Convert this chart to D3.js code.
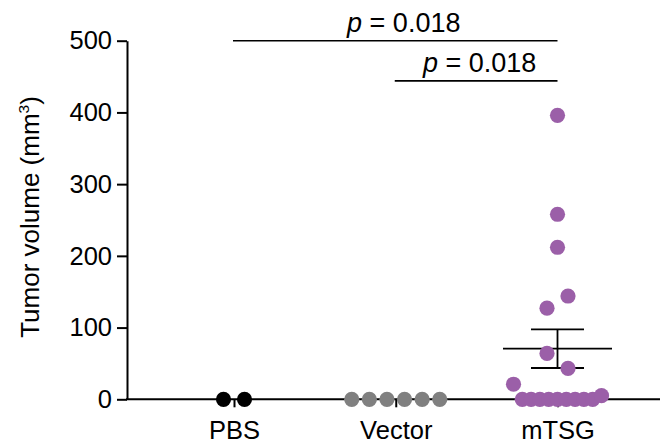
<!DOCTYPE html>
<html>
<head>
<meta charset="utf-8">
<script src="https://cdn.jsdelivr.net/npm/d3@7"></script>
<style>
  html, body { margin: 0; padding: 0; background: #fff; }
  svg { display: block; font-family: "Liberation Sans", Arial, sans-serif; }
</style>
</head>
<body>
<svg id="chart" width="662" height="446"></svg>
<script>
// ---- data ----
const categories = ["PBS", "Vector", "mTSG"];
const pbsValues = [0, 0];
const vectorValues = [0, 0, 0, 0, 0, 0];
const mtsgValues = [396, 258, 212, 127, 144, 64, 43, 21, 0, 0, 0, 0, 0, 0, 0, 0, 0, 5];
const groupColors = ["#000000", "#808080", "#9B5FA8"];
const yTicks = [0, 100, 200, 300, 400, 500];
const compFrom = ["PBS", "Vector"];
const compTo = ["mTSG", "mTSG"];
const compLabels = ["0.018", "0.018"];
const compLevels = [500, 444];

const groups = [pbsValues, vectorValues, mtsgValues];

// ---- layout ----
const svg = d3.select("#chart");
const axisLeftX = 127, axisRightX = 660;
const y = d3.scaleLinear().domain([0, 500]).range([399.3, 40.7]);
const x = d3.scalePoint().domain(categories).range([234, 557.5]);
const r = 7.6;

// beeswarm-like layout: rows of similar value, spread symmetrically in data order
function swarm(values) {
  const idx = values.map((v, i) => i).sort((a, b) => values[a] - values[b] || a - b);
  const rows = [];
  let cur = null;
  idx.forEach(i => {
    if (cur && Math.abs(y(values[i]) - y(values[cur[0]])) <= 16) cur.push(i);
    else { cur = [i]; rows.push(cur); }
  });
  const off = new Array(values.length).fill(0);
  rows.forEach(row => {
    row.sort((a, b) => a - b);
    const n = row.length;
    if (n < 2) return;
    const s = Math.min(21, 88 / (n - 1));
    row.forEach((i, k) => { off[i] = (k - (n - 1) / 2) * s; });
  });
  return off;
}

// y axis
const yAxis = svg.append("g")
  .attr("transform", `translate(${axisLeftX},0)`)
  .call(d3.axisLeft(y).tickValues(yTicks).tickSize(10).tickSizeOuter(0).tickPadding(5));
yAxis.select(".domain").attr("stroke-width", 2).attr("stroke", "#000");
yAxis.selectAll(".tick line").attr("stroke-width", 2).attr("stroke", "#000");
yAxis.selectAll(".tick text").attr("font-size", 25.5).attr("fill", "#000")
  .attr("font-family", "Liberation Sans, Arial, sans-serif");

// x axis
svg.append("line")
  .attr("x1", axisLeftX - 1).attr("x2", axisRightX)
  .attr("y1", y(0)).attr("y2", y(0))
  .attr("stroke", "#000").attr("stroke-width", 2);
const xAxis = svg.append("g")
  .attr("transform", `translate(0,${y(0)})`)
  .call(d3.axisBottom(x).tickSize(8).tickSizeOuter(0).tickPadding(14));
xAxis.select(".domain").remove();
xAxis.selectAll(".tick line").attr("stroke-width", 2).attr("stroke", "#000");
xAxis.selectAll(".tick text").attr("font-size", 25.5).attr("fill", "#000")
  .attr("font-family", "Liberation Sans, Arial, sans-serif");

// y title
const title = svg.append("text")
  .attr("transform", `translate(38.5,${(y(0) + y(500)) / 2 - 3}) rotate(-90)`)
  .attr("text-anchor", "middle")
  .attr("font-size", 26)
  .attr("fill", "#000");
title.append("tspan").text("Tumor volume (mm");
title.append("tspan").text("3").attr("font-size", 15.5).attr("dy", -10);
title.append("tspan").text(")").attr("dy", 10);

// mean ± SEM for each group with spread
groups.forEach((vals, gi) => {
  const n = vals.length;
  const m = d3.mean(vals);
  const sem = n > 1 ? d3.deviation(vals) / Math.sqrt(n) : 0;
  const cx = x(categories[gi]);
  if (sem > 0) {
    const g = svg.append("g").attr("stroke", "#000").attr("stroke-width", 1.8);
    g.append("line").attr("x1", cx - 54.5).attr("x2", cx + 54.5).attr("y1", y(m)).attr("y2", y(m));
    g.append("line").attr("x1", cx).attr("x2", cx).attr("y1", y(m - sem)).attr("y2", y(m + sem));
    g.append("line").attr("x1", cx - 26.5).attr("x2", cx + 26.5).attr("y1", y(m + sem)).attr("y2", y(m + sem));
    g.append("line").attr("x1", cx - 26.5).attr("x2", cx + 26.5).attr("y1", y(m - sem)).attr("y2", y(m - sem));
  }
});

// dots
groups.forEach((vals, gi) => {
  const off = swarm(vals);
  const cx = x(categories[gi]);
  svg.append("g").selectAll("circle")
    .data(vals)
    .join("circle")
    .attr("cx", (d, i) => cx + off[i])
    .attr("cy", d => y(d))
    .attr("r", r)
    .attr("fill", groupColors[gi]);
});

// significance brackets
compFrom.forEach((f, i) => {
  const x1 = x(f), x2 = x(compTo[i]);
  const ly = y(compLevels[i]);
  svg.append("line")
    .attr("x1", x1 - 1).attr("x2", x2)
    .attr("y1", ly).attr("y2", ly)
    .attr("stroke", "#000").attr("stroke-width", 1.6);
  const t = svg.append("text")
    .attr("x", (x1 + x2) / 2 + (i === 0 ? 8 : 3))
    .attr("y", ly - 8.5)
    .attr("text-anchor", "middle")
    .attr("font-size", 27)
    .attr("fill", "#000");
  t.append("tspan").text("p").attr("font-style", "italic");
  t.append("tspan").text(" = " + compLabels[i]);
});
</script>
</body>
</html>
